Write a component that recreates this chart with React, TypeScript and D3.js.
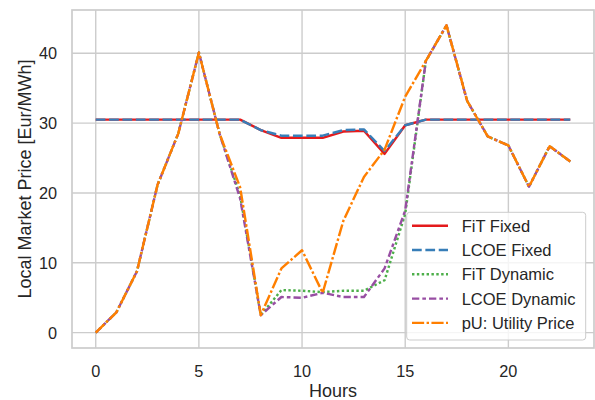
import React from "react";
import * as d3 from "d3";

const hours = d3.range(0, 24);
const fitFixed = [30.5, 30.5, 30.5, 30.5, 30.5, 30.5, 30.5, 30.5, 29.0, 27.9, 27.9, 27.9, 28.8, 28.9, 25.6, 29.7, 30.5, 30.5, 30.5, 30.5, 30.5, 30.5, 30.5, 30.5];
const lcoeFixed = [30.5, 30.5, 30.5, 30.5, 30.5, 30.5, 30.5, 30.5, 29.0, 28.2, 28.2, 28.2, 29.0, 29.1, 26.0, 29.7, 30.5, 30.5, 30.5, 30.5, 30.5, 30.5, 30.5, 30.5];
const fitDynamic = [0, 2.9, 8.8, 21.2, 28.5, 40.1, 28.5, 19.6, 2.5, 6.1, 6.0, 5.8, 6.0, 6.0, 7.5, 17.0, 38.9, 44.0, 33.2, 28.1, 26.8, 20.9, 26.7, 24.5];
const lcoeDynamic = [0, 2.9, 8.8, 21.2, 28.5, 40.1, 28.5, 19.2, 2.5, 5.1, 5.0, 5.7, 5.1, 5.1, 9.2, 17.5, 38.9, 44.0, 33.2, 28.1, 26.8, 20.9, 26.7, 24.5];
const utilityPrice = [0, 2.9, 8.8, 21.2, 28.5, 40.1, 28.5, 20.8, 2.5, 9.2, 11.8, 5.7, 16.0, 22.3, 26.2, 33.8, 38.9, 44.0, 33.2, 28.1, 26.8, 20.9, 26.7, 24.5];

const seriesNames = ["FiT Fixed", "LCOE Fixed", "FiT Dynamic", "LCOE Dynamic", "pU: Utility Price"];
const seriesValues = [fitFixed, lcoeFixed, fitDynamic, lcoeDynamic, utilityPrice];
const colors = ["#e41a1c", "#377eb8", "#4daf4a", "#984ea3", "#ff7f00"];
const lw = 2.43;
const dashes = ["", [4, 1.5], [1, 1], [3, 1.25, 1.5, 1.25], [5, 1, 1, 1]].map((d) =>
  Array.isArray(d) ? d.map((v) => v * lw).join(",") : ""
);
const xTicks = [0, 5, 10, 15, 20];
const yTicks = [0, 10, 20, 30, 40];

const W = 595, H = 400;
const L = 72, R = 594, T = 10, B = 348;
const font = "'Liberation Sans', Arial, sans-serif";
const textColor = "#262626";
const gridColor = "#cccccc";

export default function App() {
  const x = d3.scaleLinear().domain([-1.15, 24.15]).range([L, R]);
  const y = d3.scaleLinear().domain([-2.2, 46.2]).range([B, T]);
  const line = d3.line<number>().x((_, i) => x(hours[i])).y((v) => y(v));

  const legX = 406.7, legY = 212.3, legW = 179, legH = 127.7;
  const rowH = 24.3;

  return (
    <svg width={W} height={H} style={{ position: "absolute", left: 0, top: 0, background: "#fff" }} fontFamily={font}>
      <rect x={0} y={0} width={W} height={H} fill="#fff" />
      <defs>
        <clipPath id="plot">
          <rect x={L} y={T} width={R - L} height={B - T} />
        </clipPath>
      </defs>
      {xTicks.map((t) => (
        <line key={"gx" + t} x1={x(t)} x2={x(t)} y1={T} y2={B} stroke={gridColor} strokeWidth={1.4} />
      ))}
      {yTicks.map((t) => (
        <line key={"gy" + t} x1={L} x2={R} y1={y(t)} y2={y(t)} stroke={gridColor} strokeWidth={1.4} />
      ))}
      <rect x={L} y={T} width={R - L} height={B - T} fill="none" stroke={gridColor} strokeWidth={1.7} />
      <g clipPath="url(#plot)">
        {seriesValues.map((vals, i) => (
          <path
            key={seriesNames[i]}
            d={line(vals) || ""}
            fill="none"
            stroke={colors[i]}
            strokeWidth={lw}
            strokeDasharray={dashes[i] || undefined}
            strokeLinejoin="round"
          />
        ))}
      </g>
      {xTicks.map((t) => (
        <text key={"tx" + t} x={x(t)} y={370.8} textAnchor="middle" dominantBaseline="central" fontSize={16.3} fill={textColor}>
          {t}
        </text>
      ))}
      {yTicks.map((t) => (
        <text key={"ty" + t} x={57} y={y(t)} textAnchor="end" dominantBaseline="central" fontSize={16.3} fill={textColor}>
          {t}
        </text>
      ))}
      <text x={(L + R) / 2} y={396.5} textAnchor="middle" fontSize={18} fill={textColor}>
        Hours
      </text>
      <text
        transform={`translate(31, ${(T + B) / 2}) rotate(-90)`}
        textAnchor="middle"
        fontSize={18}
        fill={textColor}
      >
        Local Market Price [Eur/MWh]
      </text>
      <g>
        <rect x={legX} y={legY} width={legW} height={legH} rx={3} fill="#fff" fillOpacity={0.8} stroke={gridColor} strokeWidth={1} />
        {seriesNames.map((name, i) => {
          const cy = legY + 13.4 + i * rowH;
          return (
            <g key={name}>
              <line x1={412} x2={448} y1={cy} y2={cy} stroke={colors[i]} strokeWidth={lw} strokeDasharray={dashes[i] || undefined} />
              <text x={461.7} y={cy} dominantBaseline="central" fontSize={16.5} fill={textColor}>
                {name}
              </text>
            </g>
          );
        })}
      </g>
    </svg>
  );
}
